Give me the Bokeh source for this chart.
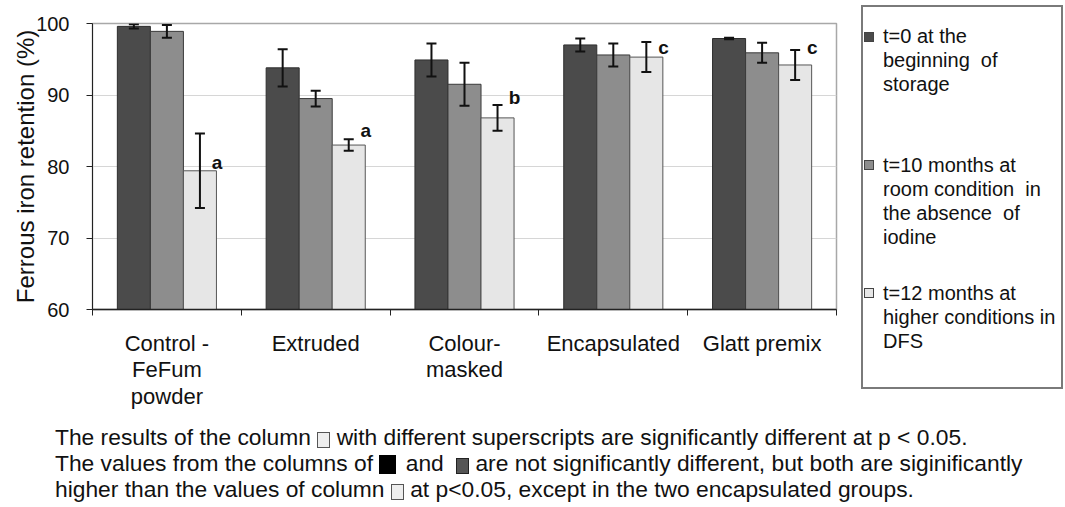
import numpy as np
from bokeh.plotting import figure
from bokeh.models import (Range1d, FixedTicker, Whisker, ColumnDataSource, TeeHead, Div)
from bokeh.layouts import row, column
from bokeh.core.properties import value
from bokeh.embed import file_html
from bokeh.resources import INLINE

# ---------------- data ----------------
categories = ["Control - FeFum powder", "Extruded", "Colour-masked", "Encapsulated", "Glatt premix"]
category_labels = ["Control -\nFeFum\npowder", "Extruded", "Colour-\nmasked", "Encapsulated", "Glatt premix"]

t0 = [99.6, 93.8, 94.9, 97.0, 97.9]
t0_err = [0.3, 2.6, 2.3, 0.9, 0.1]
t10 = [98.9, 89.5, 91.5, 95.6, 95.9]
t10_err = [0.9, 1.1, 3.0, 1.6, 1.4]
t12 = [79.4, 83.0, 86.8, 95.3, 94.2]
t12_err = [5.2, 0.8, 1.8, 2.1, 2.1]

letters = ["a", "a", "b", "c", "c"]
letter_y = [80.5, 85.0, 89.6, 96.7, 96.7]

series_lines = [["t=0 at the", "beginning&nbsp; of", "storage"],
                ["t=10 months at", "room condition&nbsp; in", "the absence&nbsp; of", "iodine"],
                ["t=12 months at", "higher conditions in", "DFS"]]
y_ticks = [60, 70, 80, 90, 100]

colors = ["#4b4b4b", "#8d8d8d", "#e6e6e6"]
outlines = ["#2e2e2e", "#3a3a3a", "#555555"]
FONT = "Liberation Sans"

# ---------------- main chart ----------------
p = figure(frame_width=744, frame_height=286,
           x_range=Range1d(0, 5), y_range=Range1d(60, 100),
           output_backend="svg", toolbar_location=None,
           min_border_left=92, min_border_right=25, min_border_top=23, min_border_bottom=100)
p.background_fill_color = "white"
p.border_fill_color = "white"
p.outline_line_color = "#a8a8a8"
p.outline_line_width = 1.5

centers = np.arange(len(categories)) + 0.5
bw = 0.222
offsets = [-bw, 0.0, bw]
vals = [t0, t10, t12]
errs = [t0_err, t10_err, t12_err]

for k in range(3):
    xs = centers + offsets[k]
    v = np.array(vals[k])
    e = np.array(errs[k])
    src = ColumnDataSource(dict(x=xs, top=v, upper=v + e, lower=v - e))
    p.vbar(x="x", top="top", bottom=60, width=bw, source=src,
           fill_color=colors[k], line_color=outlines[k], line_width=1)
    w = Whisker(source=src, base="x", upper="upper", lower="lower", level="annotation",
                line_color="#111111", line_width=2,
                upper_head=TeeHead(size=10, line_width=2, line_color="#111111"),
                lower_head=TeeHead(size=10, line_width=2, line_color="#111111"))
    p.add_layout(w)

p.text(x=centers + bw + 0.115, y=letter_y, text=letters,
       text_font=value(FONT), text_font_style="bold", text_font_size="19px",
       text_align="center", text_baseline="middle", text_color="#111111")

# axes
p.yaxis.ticker = FixedTicker(ticks=y_ticks)
p.yaxis.major_tick_out = 6
p.yaxis.major_tick_in = 0
p.yaxis.minor_tick_line_color = None
p.yaxis.major_label_text_font = FONT
p.yaxis.major_label_text_font_size = "20px"
p.yaxis.major_label_text_color = "#111111"
p.yaxis.major_label_standoff = 17
p.yaxis.axis_label = "Ferrous iron retention (%)"
p.yaxis.axis_label_text_font = FONT
p.yaxis.axis_label_text_font_size = "24px"
p.yaxis.axis_label_text_font_style = "normal"
p.yaxis.axis_label_text_color = "#111111"
p.yaxis.axis_label_standoff = -6
p.yaxis.axis_line_color = "#222222"
p.yaxis.major_tick_line_color = "#222222"

p.xaxis.ticker = FixedTicker(ticks=list(centers), minor_ticks=list(range(len(categories) + 1)))
p.xaxis.major_label_overrides = {float(c): lab for c, lab in zip(centers, category_labels)}
p.xaxis.major_tick_line_color = None
p.xaxis.major_tick_out = 0
p.xaxis.major_tick_in = 0
p.xaxis.minor_tick_out = 6
p.xaxis.minor_tick_in = 0
p.xaxis.minor_tick_line_color = "#222222"
p.xaxis.axis_line_color = "#222222"
p.xaxis.axis_line_width = 1.5
p.xaxis.major_label_text_font = FONT
p.xaxis.major_label_text_font_size = "22px"
p.xaxis.major_label_text_color = "#111111"
p.xaxis.major_label_text_line_height = 1.07
p.xaxis.major_label_standoff = 15

p.xgrid.grid_line_color = None
p.ygrid.grid_line_color = "#d6d6d6"
p.ygrid.grid_line_width = 1.2

# ---------------- legend panel (HTML) ----------------
marker_tops = [25, 153, 281]
text_tops = [17, 146, 274]
items = []
for k in range(3):
    items.append(
        f'<div style="position:absolute;left:1px;top:{marker_tops[k]}px;width:10px;height:10px;'
        f'background:{colors[k]};border:1px solid #444;box-sizing:border-box"></div>'
        f'<div style="position:absolute;left:20px;top:{text_tops[k]}px;line-height:24px;'
        f'white-space:nowrap">' + "<br>".join(series_lines[k]) + '</div>')
legend_html = ('<div style="position:relative;width:202px;height:384px;border:2px solid #7a7a7a;'
               'box-sizing:border-box;background:white;font-family:\'Liberation Sans\',Arial,sans-serif;'
               'font-size:20px;color:#111111">' + "".join(items) + '</div>')
legend = Div(text=legend_html, width=202, height=389, margin=(0, 0, 0, 0),
             styles={"padding-top": "5px"})

# ---------------- notes ----------------
def box(w, h, fill, border, ml=0, mr=0):
    return (f'<span style="display:inline-block;width:{w}px;height:{h}px;background:{fill};'
            f'border:1px solid {border};vertical-align:-3px;box-sizing:border-box;'
            f'margin-left:{ml}px;margin-right:{mr}px"></span>')

note_lines = [
    "The results of the column " + box(13, 16, "#eeeeee", "#555555") +
    " with different superscripts are significantly different at p &lt; 0.05.",
    "The values from the columns of " + box(17, 19, "#000000", "#000000", 0, 3) + " and " +
    box(13, 16, "#555555", "#222222", 6, 0) +
    " are not significantly different, but both are siginificantly",
    "higher than the values of column " + box(13, 16, "#eeeeee", "#555555") +
    " at p&lt;0.05, except in the two encapsulated groups.",
]
html = ('<div style="padding-left:55px;padding-top:12px;font-family:\'Liberation Sans\',Arial,sans-serif;'
        'font-size:22.8px;line-height:26px;color:#111111;white-space:nowrap">' +
        "<br>".join(note_lines) + "</div>")
notes = Div(text=html, width=1040, height=89, margin=(0, 0, 0, 0))

layout = column(row(p, legend), notes)

open("out.html", "w").write(file_html(layout, INLINE))
